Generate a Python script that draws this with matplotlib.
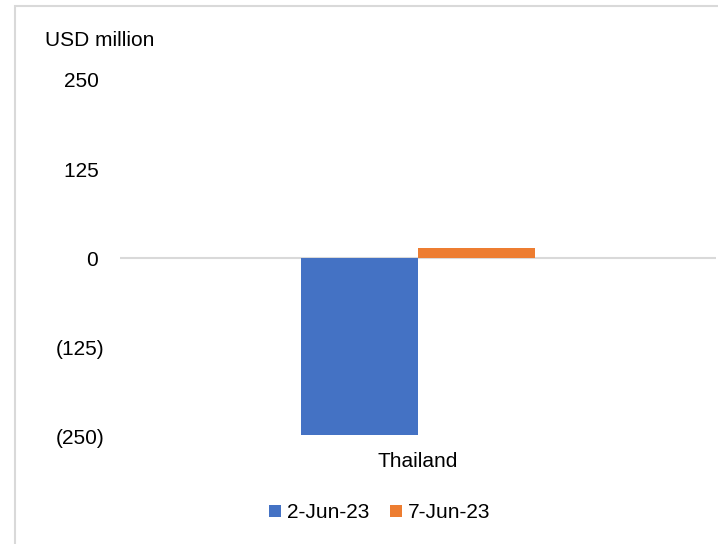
import matplotlib.pyplot as plt
from matplotlib.patches import Rectangle
from matplotlib.ticker import FuncFormatter
import numpy as np

plt.rcParams["font.family"] = ["Liberation Sans", "DejaVu Sans"]

categories = ["Thailand"]
series_names = ["2-Jun-23", "7-Jun-23"]
values_jun2 = [-247]
values_jun7 = [15]
yticks = [-250, -125, 0, 125, 250]

colors = ["#4472c4", "#ed7d31"]
FS = 15


def paren_fmt(v, pos):
    # accounting style: positives keep room for the closing paren
    if v < 0:
        return f"({abs(v):.0f})"
    return f"{v:.0f} "


fig = plt.figure(figsize=(7.18, 5.44), dpi=100)
ax = fig.add_axes([0.167, 0.197, 0.830, 0.656])

x = np.arange(len(categories))
w = 0.196
ax.bar(x - w / 2, values_jun2, width=w, color=colors[0], label=series_names[0], zorder=3)
ax.bar(x + w / 2, values_jun7, width=w, color=colors[1], label=series_names[1], zorder=3)
ax.axhline(0, color="#d9d9d9", linewidth=1.5, zorder=2)

ax.set_xlim(-0.5, 0.5)
ax.set_ylim(-250, 250)
ax.set_yticks(yticks)
ax.yaxis.set_major_formatter(FuncFormatter(paren_fmt))
ax.set_xticks(x)
ax.set_xticklabels(categories)
ax.tick_params(axis="both", length=0, labelsize=FS, colors="#000000")
ax.tick_params(axis="y", pad=11)
ax.tick_params(axis="x", pad=11)
for s in ax.spines.values():
    s.set_visible(False)

fig.text(45 / 718, 1 - 40 / 544, "USD million", fontsize=FS, va="center", ha="left")

fig.legend(loc="center", bbox_to_anchor=(380 / 718, 1 - 513 / 544), ncol=2,
           frameon=False, fontsize=FS, handlelength=0.55, handleheight=0.55,
           handletextpad=0.3, columnspacing=1.0)

fig.patches.append(Rectangle((15 / 718, -0.05), 1.0, 1.05 - 6 / 544,
                             transform=fig.transFigure, fill=False,
                             edgecolor="#d9d9d9", linewidth=1.5))

fig.savefig("out.png", dpi=100)
